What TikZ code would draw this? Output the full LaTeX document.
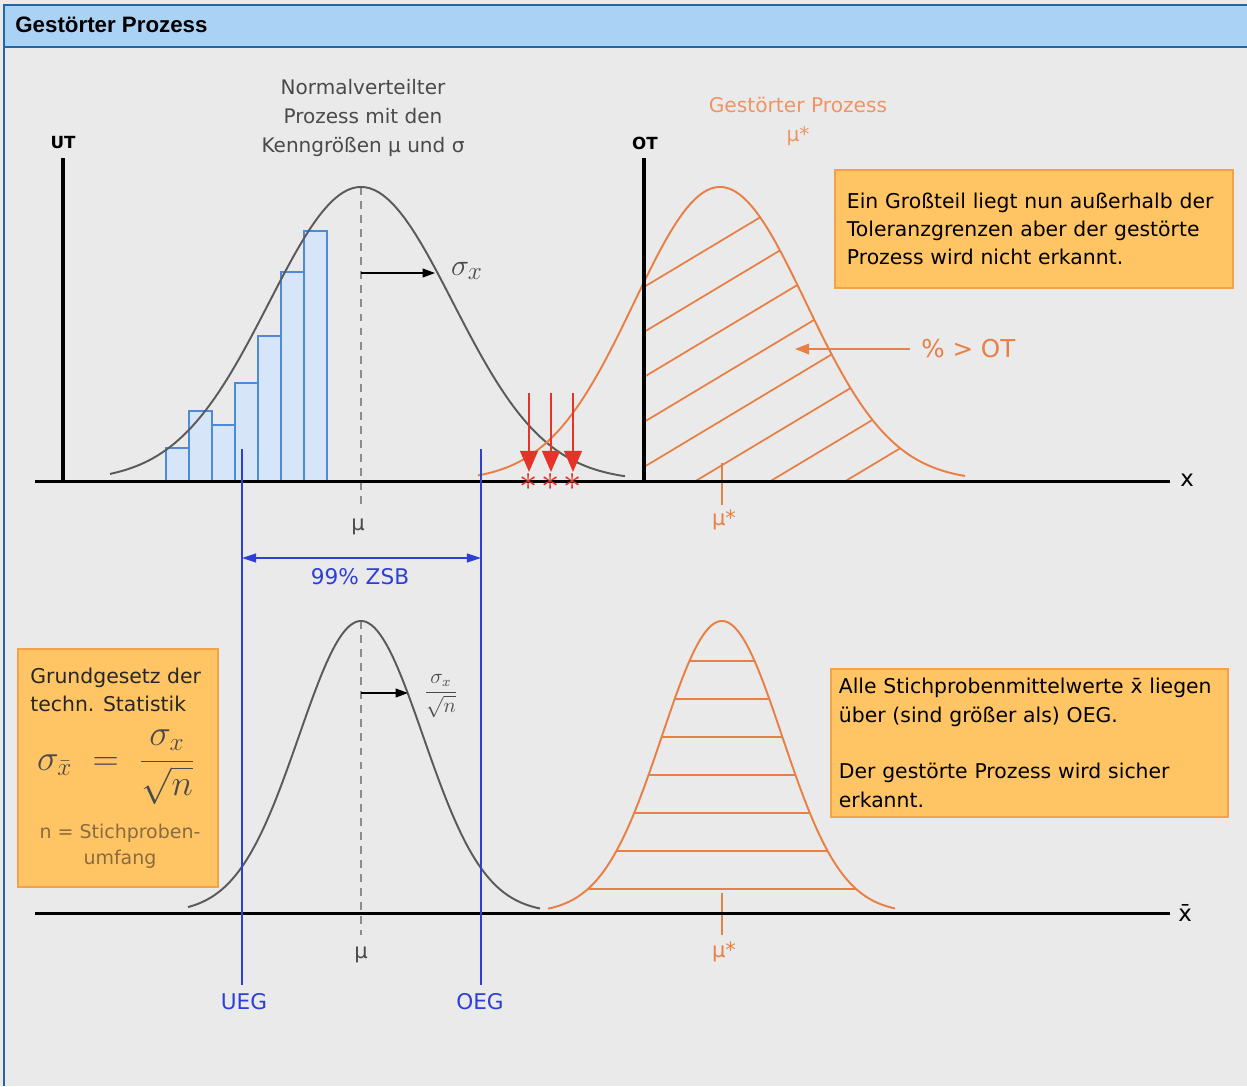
\documentclass[tikz,border=0pt]{standalone}
\usepackage{fontspec}
\setmainfont{DejaVu Sans}
\newfontfamily\titlefont{Liberation Sans}
\usetikzlibrary{arrows.meta,positioning}

\definecolor{bggray}{HTML}{EAEAEA}
\definecolor{headfill}{HTML}{A9D2F5}
\definecolor{headedge}{HTML}{2266AA}
\definecolor{curvegray}{HTML}{5A5A5A}
\definecolor{dashgray}{HTML}{8C8C8C}
\definecolor{procorange}{HTML}{E87F45}
\definecolor{orangetext}{HTML}{EE9466}
\definecolor{boxfill}{HTML}{FFC565}
\definecolor{boxedge}{HTML}{F4A24A}
\definecolor{limitblue}{HTML}{2E3FD6}
\definecolor{barfill}{HTML}{D6E6F8}
\definecolor{baredge}{HTML}{4D8BDA}
\definecolor{alarmred}{HTML}{E6332A}
\definecolor{textgray}{HTML}{4A4A4A}
\definecolor{notebrown}{HTML}{8A6B3F}

\begin{document}
\begin{tikzpicture}[x=0.02cm,y=-0.02cm,
  axis/.style={draw=black,line width=1.7pt},
  tolerance/.style={draw=black,line width=2.4pt},
  normcurve/.style={draw=curvegray,line width=1.1pt},
  shiftcurve/.style={draw=procorange,line width=1.1pt},
  hatch/.style={draw=procorange,line width=1pt},
  meanline/.style={draw=dashgray,line width=0.8pt,dash pattern=on 4.5pt off 3.5pt},
  limitline/.style={draw=limitblue,line width=1.1pt},
  histbar/.style={draw=baredge,fill=barfill,line width=0.9pt},
  redarr/.style={draw=alarmred,line width=1.4pt,-{Triangle[length=12pt,width=10pt]}},
  sigarr/.style={draw=black,line width=0.8pt,-{Triangle[length=7pt,width=5pt]}},
  infobox/.style={draw=boxedge,fill=boxfill,line width=1pt,inner sep=0pt},
  txt/.style={font=\fontsize{11.6}{16.2}\selectfont,inner sep=0pt},
  limitlabel/.style={font=\fontsize{12.3}{14}\selectfont,text=limitblue,inner sep=0pt},
  mulabel/.style={font=\fontsize{12}{14}\selectfont,inner sep=0pt},
]
\useasboundingbox (0,0) rectangle (1247,1086);
\fill[bggray] (0,0) rectangle (1247,1086);

% Header
\fill[headfill] (4,5) rectangle (1247,47);
\draw[headedge,line width=1.2pt] (1247,5) -- (4,5) -- (4,1086);
\draw[headedge,line width=1.2pt] (4,47) -- (1247,47);
\node[font=\titlefont\bfseries\fontsize{12.7}{15}\selectfont,anchor=west,inner sep=0pt] (title) at (15,25) {Gestörter Prozess};

% Upper part: histogram under the process curve
\foreach \l/\t in {166/448,189/411,212/425,235/383,258/336,281/272,304/231}
  \draw[histbar] (\l,481) rectangle ({\l+23},\t);

% Normal process
\draw[meanline] (361,187) -- (361,505);
\draw[normcurve] plot[domain=110:625,samples=120] (\x,{481-294*exp(-0.5*((\x-361)/92)^2)});

% Disturbed process, hatched part above OT
\begin{scope}
  \clip (644,481) -- plot[domain=644:980,samples=80] (\x,{481-294*exp(-0.5*((\x-720)/86)^2)}) -- (980,481) -- cycle;
  \foreach \k in {0,...,7}
    \draw[hatch] (644,{287+45*\k}) -- ++(420,-252);
\end{scope}
\draw[shiftcurve] plot[domain=478:965,samples=120] (\x,{481-294*exp(-0.5*((\x-720)/86)^2)});
\draw[shiftcurve] (722,463) -- (722,505);

% Tolerance limits
\coordinate (uttop) at (63,158);
\coordinate (utbot) at (63,481);
\coordinate (ottop) at (644,158);
\coordinate (otbot) at (644,481);
\draw[tolerance] (utbot) -- (uttop);
\draw[tolerance] (otbot) -- (ottop);
\node[font=\bfseries\fontsize{9.5}{11}\selectfont,inner sep=0pt] (ut) at (63,143) {UT};
\node[font=\bfseries\fontsize{9.5}{11}\selectfont,inner sep=0pt] (ot) at (645,143) {OT};

% Upper axis
\coordinate (xa0) at (35,481);
\coordinate (xa1) at (1170,481);
\draw[axis] (xa0) -- (xa1);
\node[font=\fontsize{13}{15}\selectfont,inner sep=0pt] (xlab) at (1187,480) {x};

% Red arrows onto the axis
\foreach \i/\xa in {1/529,2/551,3/573}{
  \node[text=alarmred,font=\fontsize{20}{20}\selectfont,inner sep=0pt] (hit\i) at (\xa,482) {$\ast$};
  \coordinate (src\i) at (\xa,393);
  \draw[redarr] (src\i) -- (\xa,472);
}

% Sigma arrow
\coordinate (sig0) at (361,273);
\coordinate (sig1) at (435,273);
\draw[sigarr] (sig0) -- (sig1);
\node[font=\fontsize{19}{22}\selectfont,text=textgray] (sigx) at (467,271) {$\sigma_x$};

% Labels upper part
\node[txt,align=center,text=textgray,font=\fontsize{11.4}{16.5}\selectfont] (normtext) at (363,118)
  {Normalverteilter\\Prozess mit den\\Kenngrößen μ und σ};
\node[txt,align=center,text=orangetext,font=\fontsize{11.5}{16.5}\selectfont] (shifttext) at (798,121)
  {Gestörter Prozess\\μ*};
\node[mulabel,text=textgray] (mu1) at (358,527) {μ};
\node[mulabel,text=procorange] (mustar1) at (724,520) {μ*};

% Percentage above OT
\node[font=\fontsize{14}{16}\selectfont,text=procorange,anchor=west,inner sep=0pt] (pctot) at (921,349) {\% > OT};
\coordinate (pcttip) at (795,349);
\draw[draw=procorange,line width=1pt,-{Triangle[length=8pt,width=6pt]}] ([xshift=-6pt]pctot.west) -- (pcttip);

% Info box upper right
\node[infobox,txt,anchor=north west,minimum width=7.96cm,minimum height=2.36cm,
      text width=7.48cm,align=left,inner xsep=0.24cm] (warnbox) at (834,169)
  {Ein Großteil liegt nun außerhalb der\\Toleranzgrenzen aber der gestörte\\Prozess wird nicht erkannt.};

% Lower part: distribution of sample means
\draw[meanline] (361,621) -- (361,935);
\draw[normcurve] plot[domain=188:540,samples=120] (\x,{913-292*exp(-0.5*((\x-361)/62)^2)});
\foreach \yy [evaluate=\yy as \dd using {60*sqrt(2*ln(292/(913-\yy)))}] in {661,699,737,775,813,851,889}
  \draw[hatch] ({722-\dd},\yy) -- ({722+\dd},\yy);
\draw[shiftcurve] plot[domain=548:895,samples=120] (\x,{913-292*exp(-0.5*((\x-722)/60)^2)});
\draw[shiftcurve] (722,893) -- (722,935);

\coordinate (xb0) at (35,913);
\coordinate (xb1) at (1170,913);
\draw[axis] (xb0) -- (xb1);
\node[font=\fontsize{13}{15}\selectfont,inner sep=0pt] (xbarlab) at (1185,913) {\=x};

\coordinate (ssig0) at (361,693);
\coordinate (ssig1) at (408,693);
\draw[sigarr] (ssig0) -- (ssig1);
\node[font=\fontsize{12}{14}\selectfont,text=textgray,inner sep=0pt] (sigxn) at (441,696) {$\displaystyle\frac{\sigma_x}{\sqrt{n}}$};

\node[mulabel,text=textgray] (mu2) at (361,955) {μ};
\node[mulabel,text=procorange] (mustar2) at (724,952) {μ*};

% Control limits
\coordinate (uegtop) at (242,449);
\coordinate (uegbot) at (242,985);
\coordinate (oegtop) at (481,449);
\coordinate (oegbot) at (481,985);
\draw[limitline] (uegtop) -- (uegbot);
\draw[limitline] (oegtop) -- (oegbot);
\node[limitlabel] (ueg) at (244,1002) {UEG};
\node[limitlabel] (oeg) at (480,1002) {OEG};
\coordinate (zsb0) at (242,558);
\coordinate (zsb1) at (481,558);
\draw[limitline,line width=0.9pt,{Triangle[length=8pt,width=5pt]}-{Triangle[length=8pt,width=5pt]}] (zsb0) -- (zsb1);
\node[limitlabel] (zsb) at (360,577) {99\% ZSB};

% Info box lower left
\node[infobox,anchor=north west,minimum width=4cm,minimum height=4.76cm] (lawbox) at (17,648) {};
\node[txt,align=left,anchor=west,text=black!85] (lawtitle) at (30,690) {Grundgesetz der\\techn. Statistik};
\node[font=\fontsize{21}{24}\selectfont,text=textgray,inner sep=0pt] (law) at (116,767)
  {$\displaystyle\sigma_{\bar{x}} \;=\; \frac{\sigma_x}{\sqrt{n}}$};
\node[txt,align=center,text=notebrown,font=\fontsize{10.8}{14.8}\selectfont] (nnote) at (120,846)
  {n = Stichproben-\\umfang};

% Info box lower right
\node[infobox,txt,anchor=north west,minimum width=7.94cm,minimum height=2.96cm,
      text width=7.62cm,align=left,inner xsep=0.16cm] (resultbox) at (830,668)
  {Alle Stichprobenmittelwerte \=x liegen\\über (sind größer als) OEG.\\[16.2pt]Der gestörte Prozess wird sicher\\erkannt.};

\end{tikzpicture}
\end{document}
